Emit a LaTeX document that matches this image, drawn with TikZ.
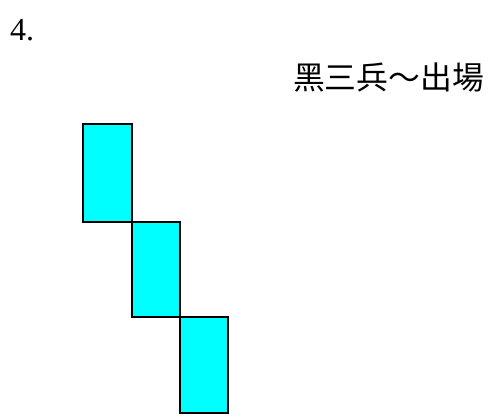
\documentclass[tikz,border=0pt]{standalone}
\usepackage{fontspec}
\setmainfont{Liberation Serif}
\newfontfamily\cjk{Noto Sans CJK TC}[BoldFont={}]
\definecolor{aqua}{RGB}{0,255,255}
\begin{document}
\begin{tikzpicture}[x=1pt,y=1pt,
  candle/.style={draw=black,line width=1.6pt,fill=aqua,inner sep=0pt,outer sep=0pt,anchor=south west,minimum width=48pt,minimum height=96pt}]
\useasboundingbox (0,0) rectangle (494,418);
\node[candle,minimum width=49pt,minimum height=98pt] (c1) at (83,196) {};
\node[candle,minimum height=95pt] (c2) at (132,101) {};
\node[candle] (c3) at (180,5) {};
\node[anchor=base west,inner sep=0pt,font=\fontsize{32}{34}\selectfont] (num) at (10,377) {4.};
\node[anchor=east,inner sep=0pt,font=\cjk\fontsize{31.8}{33}\selectfont] (title) at (484,341) {黑三兵～出場};
\end{tikzpicture}
\end{document}
